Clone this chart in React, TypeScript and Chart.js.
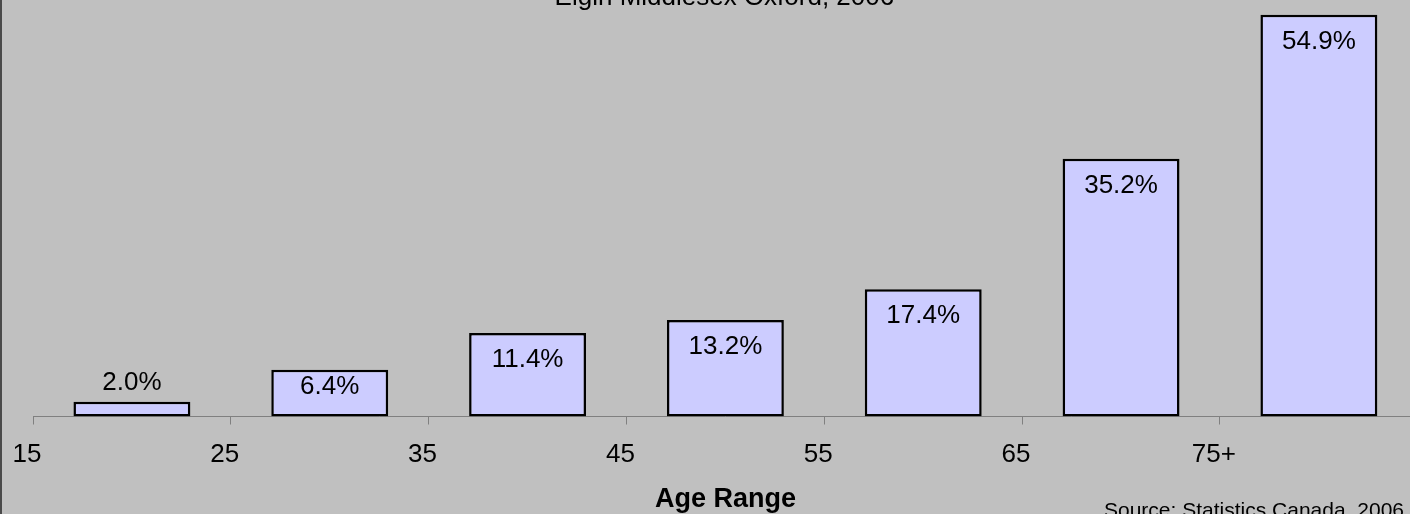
import React, { useEffect, useRef } from "react";
import { Chart, registerables } from "chart.js";

Chart.register(...registerables);

const ageStarts: string[] = ["15", "25", "35", "45", "55", "65", "75+"];
const shares: number[] = [2.0, 6.4, 11.4, 13.2, 17.4, 35.2, 54.9];
const titleText = "Elgin Middlesex Oxford, 2006";
const axisTitleText = "Age Range";
const sourceText = "Source: Statistics Canada, 2006";

const FONT = "'Liberation Sans', Arial, sans-serif";
const CANVAS_W = 1450;
const CANVAS_H = 530;

const decor = {
  id: "decor",
  beforeDraw(chart: any) {
    const { ctx, width, height } = chart;
    ctx.save();
    ctx.fillStyle = "#C0C0C0";
    ctx.fillRect(0, 0, width, height);
    ctx.restore();
  },
  afterDatasetsDraw(chart: any) {
    const { ctx } = chart;
    const meta = chart.getDatasetMeta(0);
    ctx.save();
    ctx.font = `26px ${FONT}`;
    ctx.fillStyle = "#000";
    ctx.textAlign = "center";
    ctx.textBaseline = "middle";
    meta.data.forEach((bar: any, i: number) => {
      const top = bar.y;
      const base = bar.base;
      let cy: number;
      if (base - top < 30) cy = top - 19;
      else cy = Math.min(top + 27, base - 30);
      ctx.fillText(shares[i].toFixed(1) + "%", bar.x, cy);
    });
    ctx.restore();
  },
  afterDraw(chart: any) {
    const { ctx, chartArea, height } = chart;
    ctx.save();
    ctx.fillStyle = "#000";
    ctx.textBaseline = "alphabetic";
    ctx.textAlign = "center";
    ctx.font = `26px ${FONT}`;
    ctx.fillText(titleText, (chartArea.left + chartArea.right) / 2 - 1, 5);
    ctx.textAlign = "right";
    ctx.font = `21px ${FONT}`;
    ctx.fillText(sourceText, 1404, 517);
    ctx.fillStyle = "#4a4a4a";
    ctx.fillRect(0, 0, 2, height);
    ctx.restore();
  },
};

export default function App() {
  const ref = useRef<HTMLCanvasElement | null>(null);

  useEffect(() => {
    if (!ref.current) return;
    const chart = new Chart(ref.current, {
      type: "bar",
      data: {
        labels: ageStarts,
        datasets: [
          {
            data: shares,
            backgroundColor: "#CCCCFF",
            borderColor: "#000000",
            borderWidth: 2.5,
            borderSkipped: false,
            categoryPercentage: 1,
            barPercentage: 0.591,
          },
        ],
      },
      options: {
        animation: false,
        responsive: false,
        devicePixelRatio: 1,
        events: [],
        layout: { padding: { left: 33, right: 32.2, top: 6.6, bottom: 0 } },
        plugins: {
          legend: { display: false },
          title: { display: false },
          tooltip: { enabled: false },
        },
        scales: {
          x: {
            type: "category",
            offset: true,
            afterFit: (scale: any) => {
              scale.height = 113.5;
            },
            border: { display: true, color: "#808080", width: 1 },
            grid: {
              display: true,
              offset: true,
              drawOnChartArea: false,
              drawTicks: true,
              tickLength: 8,
              color: "#808080",
            },
            ticks: {
              color: "#000",
              font: { family: FONT, size: 26 },
              padding: 15,
              labelOffset: -105,
              maxRotation: 0,
              autoSkip: false,
            },
            title: {
              display: true,
              text: axisTitleText,
              color: "#000",
              font: { family: FONT, size: 27, weight: "bold" },
              padding: { top: 0, bottom: 14 },
            },
          },
          y: {
            display: false,
            min: 0,
            max: 56,
          },
        },
      },
      plugins: [decor],
    });
    return () => chart.destroy();
  }, []);

  return (
    <div
      style={{
        position: "fixed",
        left: 0,
        top: 0,
        width: 1410,
        height: 514,
        overflow: "hidden",
        background: "#C0C0C0",
      }}
    >
      <canvas
        ref={ref}
        width={CANVAS_W}
        height={CANVAS_H}
        style={{ display: "block", width: CANVAS_W, height: CANVAS_H }}
      />
    </div>
  );
}
